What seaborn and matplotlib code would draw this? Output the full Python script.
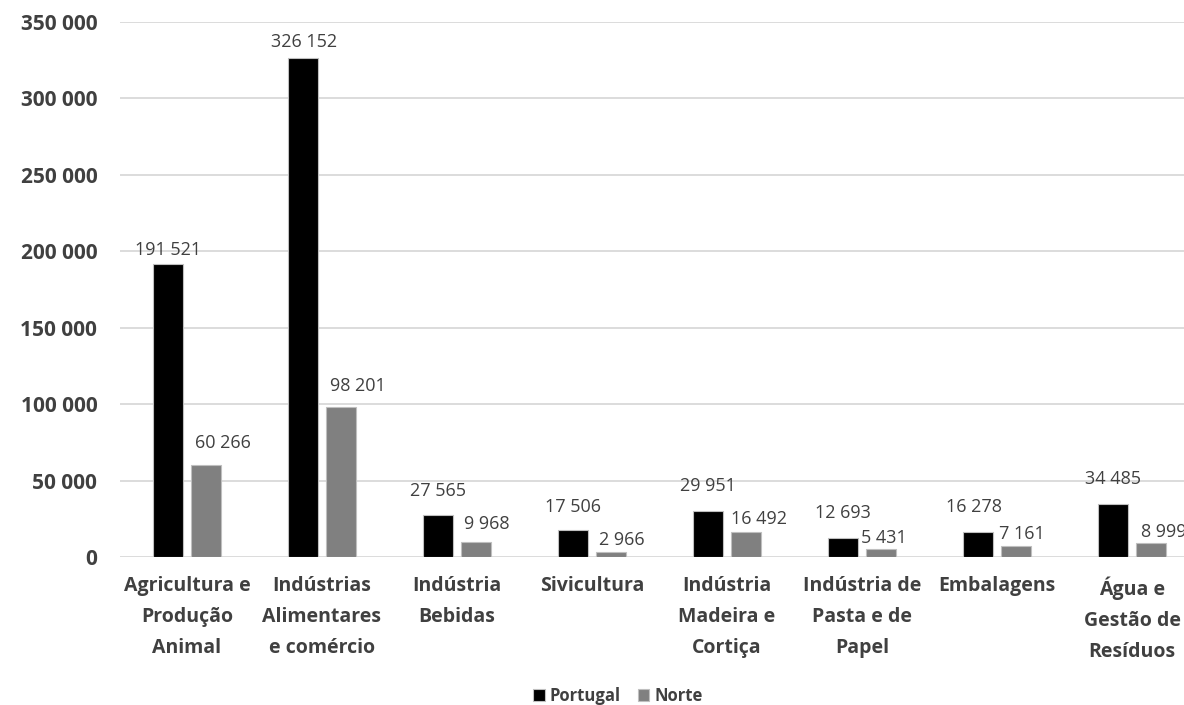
import pandas as pd
import matplotlib
matplotlib.use("Agg")
import matplotlib.pyplot as plt
import seaborn as sns

# ── Data ───────────────────────────────────────────────────────────────────────
CATEGORIES = [
    "Agricultura e\nProdução\nAnimal",
    "Indústrias\nAlimentares\ne comércio",
    "Indústria\nBebidas",
    "Sivicultura",
    "Indústria\nMadeira e\nCortiça",
    "Indústria de\nPasta e de\nPapel",
    "Embalagens",
    "Água e\nGestão de\nResíduos",
]
PORTUGAL = [191521, 326152, 27565, 17506, 29951, 12693, 16278, 34485]
NORTE    = [60266, 98201, 9968, 2966, 16492, 5431, 7161, 8999]
SERIES   = ["Portugal", "Norte"]
Y_TICKS  = [0, 50000, 100000, 150000, 200000, 250000, 300000, 350000]

# label offsets (points) from bar top, as placed in the original chart
LABEL_OFFSETS = {
    "Portugal": [(0, 10), (1, 12), (0, 17), (0, 17), (0, 18), (0, 18), (-3, 18), (0, 18)],
    "Norte":    [(12, 16), (12, 15), (8, 13), (8, 9), (9, 9), (2, 8), (4, 9), (9, 8)],
}

TEXT_COLOR = "#404040"


def fmt(v):
    return f"{v:,}".replace(",", " ")


df = pd.DataFrame({
    "categoria": CATEGORIES * 2,
    "valor": PORTUGAL + NORTE,
    "serie": [SERIES[0]] * len(CATEGORIES) + [SERIES[1]] * len(CATEGORIES),
})

sns.set_theme(style="white")
plt.rcParams["font.family"] = ["Open Sans", "DejaVu Sans"]

fig = plt.figure(figsize=(11.84, 7.05), dpi=100)
ax = fig.add_axes([119.5 / 1184, 148 / 705, 1080 / 1184, 535 / 705])

sns.barplot(
    data=df, x="categoria", y="valor", hue="serie",
    palette=["#000000", "#808080"], width=0.563, gap=0.21,
    edgecolor="#bfbfbf", linewidth=0.8, ax=ax, legend=True,
)

# ── Axes styling ───────────────────────────────────────────────────────────────
ax.set_ylim(0, 350000)
ax.set_xlim(-0.5, len(CATEGORIES) - 0.5)
ax.set_yticks(Y_TICKS)
ax.set_yticklabels([fmt(t) for t in Y_TICKS])
ax.yaxis.grid(True, color="#d9d9d9", linewidth=1.3)
ax.set_axisbelow(True)
for s in ax.spines.values():
    s.set_visible(False)
ax.set_xlabel("")
ax.set_ylabel("")
ax.tick_params(axis="y", length=0, pad=16, labelsize=15, labelcolor=TEXT_COLOR)
ax.tick_params(axis="x", length=0, pad=14, labelsize=14, labelcolor=TEXT_COLOR)
for lab in ax.get_yticklabels() + ax.get_xticklabels():
    lab.set_fontweight("bold")
for lab in ax.get_xticklabels():
    lab.set_linespacing(1.72)

# ── Data labels ────────────────────────────────────────────────────────────────
for serie, container in zip(SERIES, ax.containers):
    for bar, off in zip(container, LABEL_OFFSETS[serie]):
        h = bar.get_height()
        ax.annotate(
            fmt(int(round(h))),
            (bar.get_x() + bar.get_width() / 2, h),
            xytext=off, textcoords="offset points",
            ha="center", va="center", fontsize=13, color=TEXT_COLOR,
            annotation_clip=False,
        )

# ── Legend ─────────────────────────────────────────────────────────────────────
handles, labels = ax.get_legend_handles_labels()
ax.get_legend().remove()
leg = fig.legend(
    handles, labels, loc="center", bbox_to_anchor=(618 / 1184, 1 - 696 / 705),
    ncol=2, frameon=False, handlelength=0.7, handleheight=0.7,
    handletextpad=0.3, columnspacing=1.0, prop={"size": 12, "weight": "bold"},
)
for t in leg.get_texts():
    t.set_color(TEXT_COLOR)

fig.savefig("out.png", dpi=100)
